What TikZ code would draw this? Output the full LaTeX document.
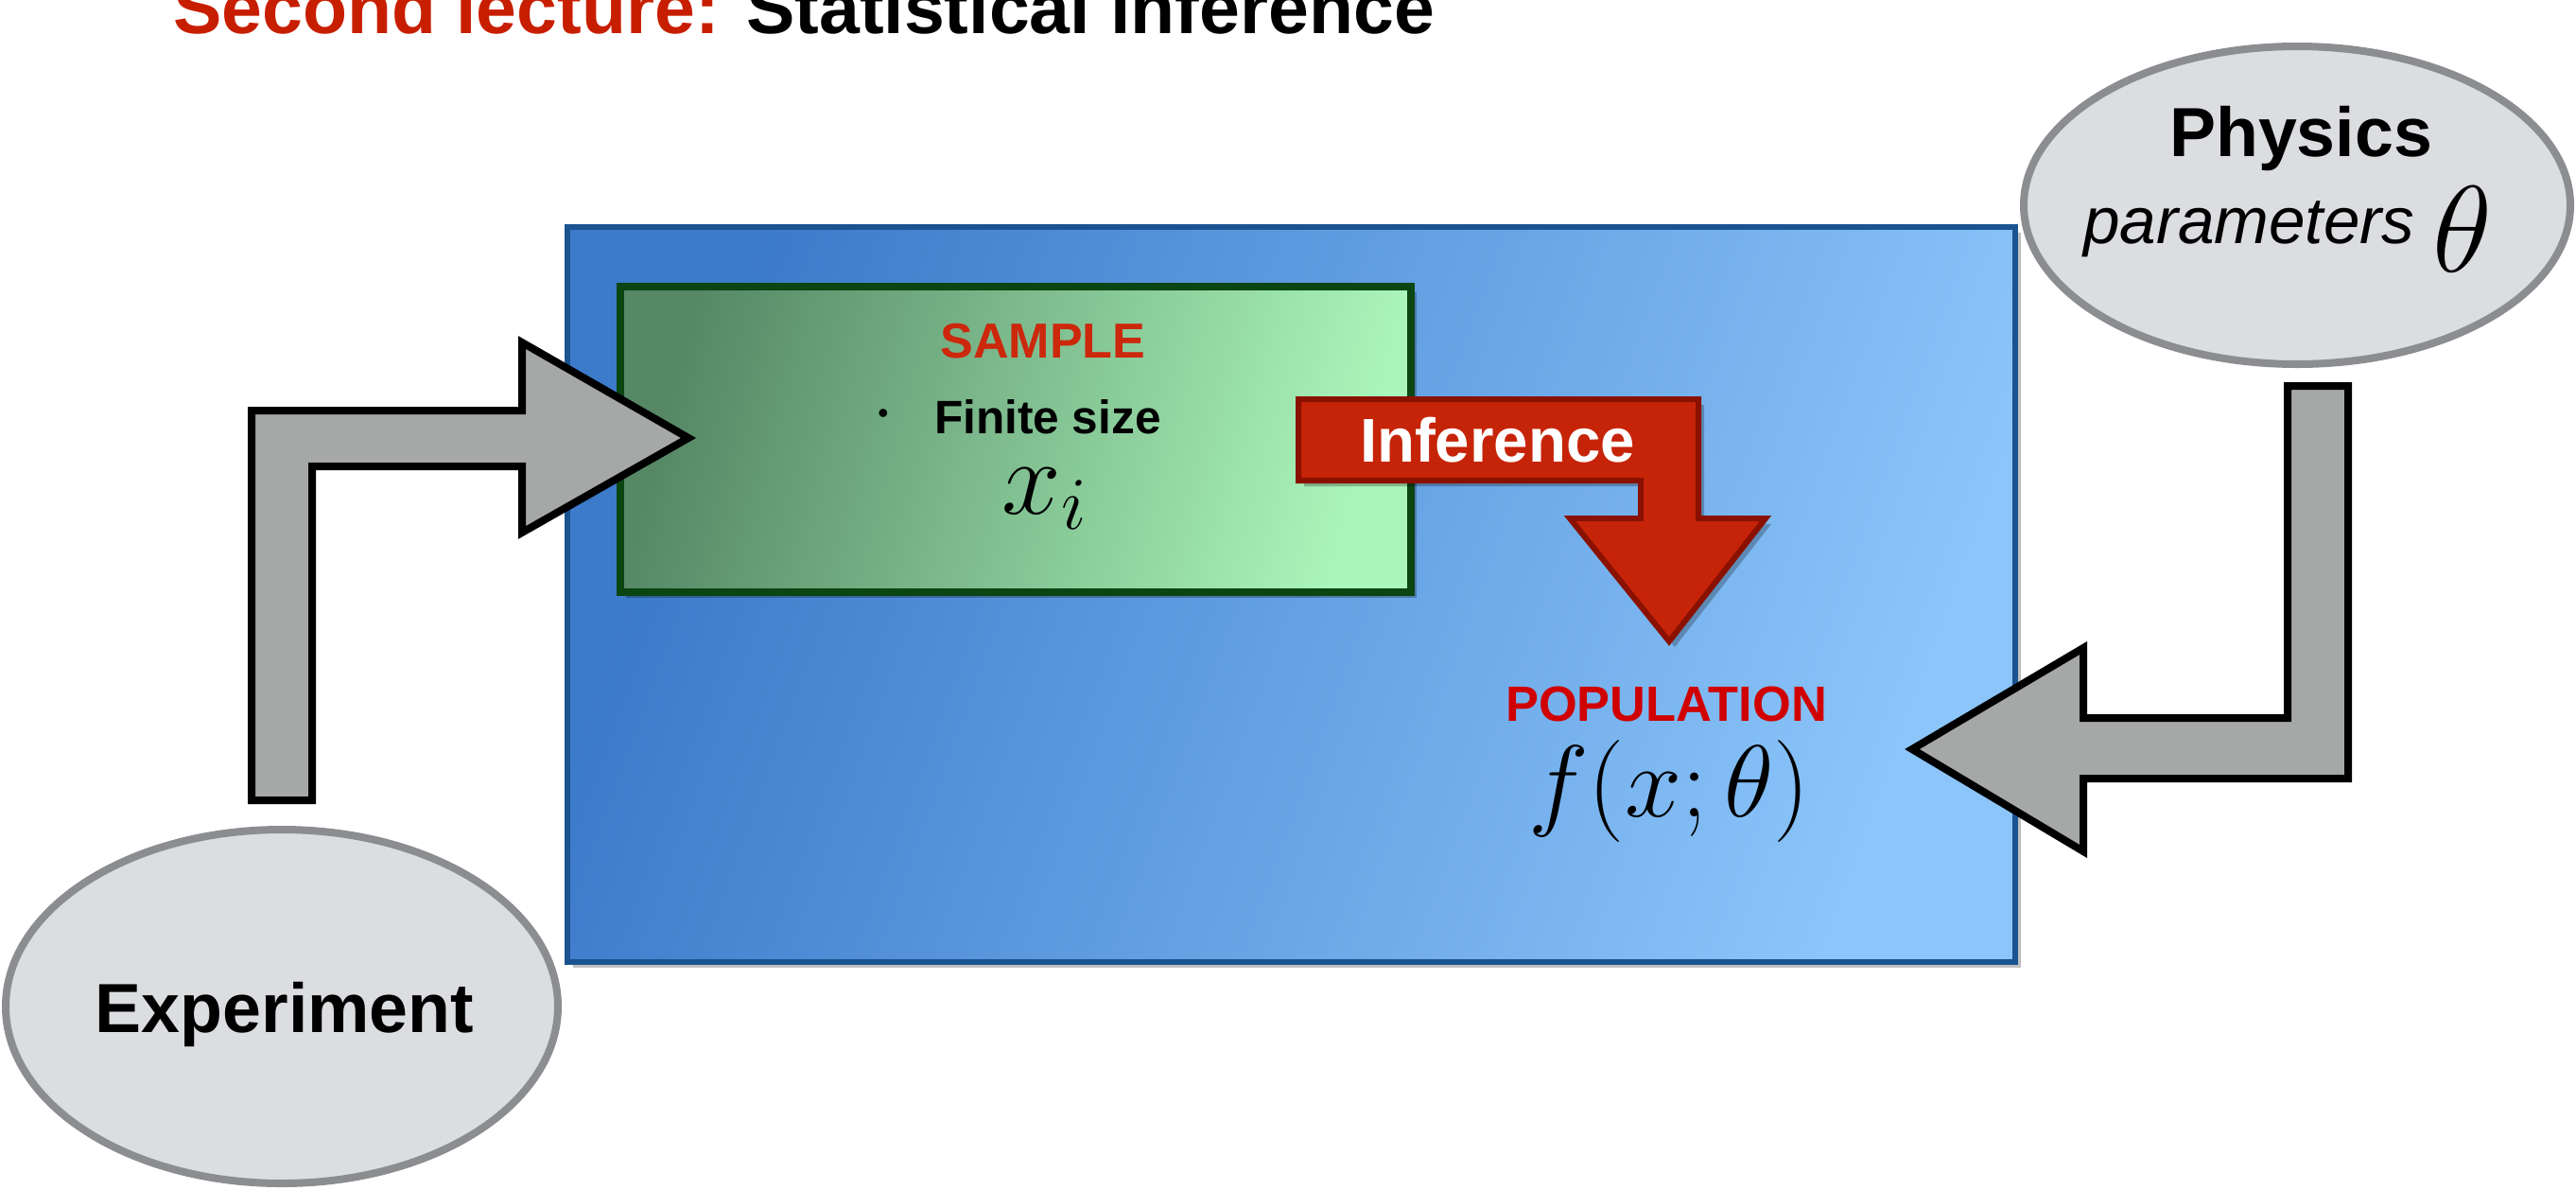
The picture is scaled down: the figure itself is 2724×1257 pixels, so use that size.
\RequirePackage{fix-cm}
\documentclass[tikz,border=0pt]{standalone}
\usepackage{fontspec}
\setmainfont{Liberation Sans}
\usetikzlibrary{shadows}
\definecolor{titlered}{RGB}{200,30,0}
\definecolor{samplered}{RGB}{204,40,12}
\definecolor{popred}{RGB}{208,0,0}
\definecolor{blueA}{RGB}{60,122,202}
\definecolor{blueB}{RGB}{139,197,250}
\definecolor{blueline}{RGB}{27,83,145}
\definecolor{greenA}{RGB}{86,136,102}
\definecolor{greenB}{RGB}{170,245,186}
\definecolor{greenline}{RGB}{11,69,18}
\definecolor{inffill}{RGB}{198,36,8}
\definecolor{infline}{RGB}{138,17,0}
\definecolor{arrgray}{RGB}{166,168,167}
\definecolor{ellfill}{RGB}{220,221,224}
\definecolor{ellline}{RGB}{140,141,144}
\begin{document}
\begin{tikzpicture}[x=0.01cm,y=-0.01cm,
  boxshadow/.style={drop shadow={shadow xshift=0.06cm,shadow yshift=-0.06cm,opacity=0.25,fill=black}},
  outerbox/.style={draw=blueline,line width=0.06cm,top color=blueA,bottom color=blueB,shading angle=70,boxshadow},
  samplebox/.style={draw=greenline,line width=0.08cm,top color=greenA,bottom color=greenB,shading angle=75,boxshadow},
  infarrow/.style={draw=infline,line width=0.06cm,fill=inffill,line join=miter,boxshadow},
  grayarrow/.style={draw=black,line width=0.08cm,fill=arrgray,line join=miter},
  ellbox/.style={draw=ellline,line width=0.08cm,fill=ellfill},
  lab/.style={inner sep=0pt,outer sep=0pt},
]
\useasboundingbox (0,0) rectangle (2724,1257);

% title
\node[lab,anchor=base west,font=\fontsize{21.9}{26}\selectfont\bfseries] (title) at (183,35)
  {\textcolor{titlered}{Second lecture:} Statistical inference};

% outer population box
\path[outerbox] (600,240) rectangle (2131,1017);
\coordinate (popbox) at (1365,628);

% sample box
\path[samplebox] (656,303) rectangle (1492,626);
\coordinate (samplebox) at (1074,464);

% inference arrow
\path[infarrow] (1373,422) -- (1796,422) -- (1796,548) -- (1867,548) -- (1765,678)
  -- (1660,548) -- (1735,548) -- (1735,508) -- (1373,508) -- cycle;

% experiment ellipse
\path[ellbox] (298,1064) ellipse [x radius=292, y radius=187];
\coordinate (expc) at (298,1064);
% physics ellipse
\path[ellbox] (2429,217) ellipse [x radius=289, y radius=168];
\coordinate (physc) at (2429,217);

% gray arrows
\path[grayarrow] (266,846) -- (266,434) -- (552,434) -- (552,362) -- (728,463)
  -- (552,563) -- (552,493) -- (330,493) -- (330,846) -- cycle;
\path[grayarrow] (2419,408) -- (2483,408) -- (2483,823) -- (2203,823) -- (2203,900)
  -- (2022,792) -- (2203,685) -- (2203,759) -- (2419,759) -- cycle;

% texts
\node[lab,anchor=base,font=\fontsize{14.8}{18}\selectfont\bfseries,text=samplered] (sample) at (1103,378) {SAMPLE};
\node[lab,font=\fontsize{9}{10}\selectfont] (bullet) at (934,440) {•};
\node[lab,anchor=base west,font=\fontsize{14.1}{17}\selectfont\bfseries] (finite) at (988,458) {Finite size};
\node[lab,anchor=base,font=\fontsize{32}{38}\selectfont] (xi) at (1105,543) {$x_i$};

\node[lab,anchor=base west,font=\fontsize{18.6}{22}\selectfont\bfseries,text=white] (inf) at (1438,488) {Inference};

\node[lab,anchor=base,font=\fontsize{14.9}{18}\selectfont\bfseries,text=popred] (pop) at (1762,762) {POPULATION};
\node[lab,anchor=base,font=\fontsize{30.7}{36}\selectfont] (fx) at (1765,863) {$f(x;\theta)$};

\node[lab,anchor=base,font=\fontsize{20.9}{25}\selectfont\bfseries] (exp) at (301,1091) {Experiment};
\node[lab,anchor=base,font=\fontsize{20.9}{25}\selectfont\bfseries] (phys) at (2433,165) {Physics};
\node[lab,anchor=base west,font=\fontsize{19.7}{24}\selectfont\itshape] (param) at (2203,257) {parameters};
\node[lab,anchor=base west,font=\fontsize{37}{44}\selectfont] (theta) at (2572,287) {$\theta$};
\end{tikzpicture}
\end{document}
